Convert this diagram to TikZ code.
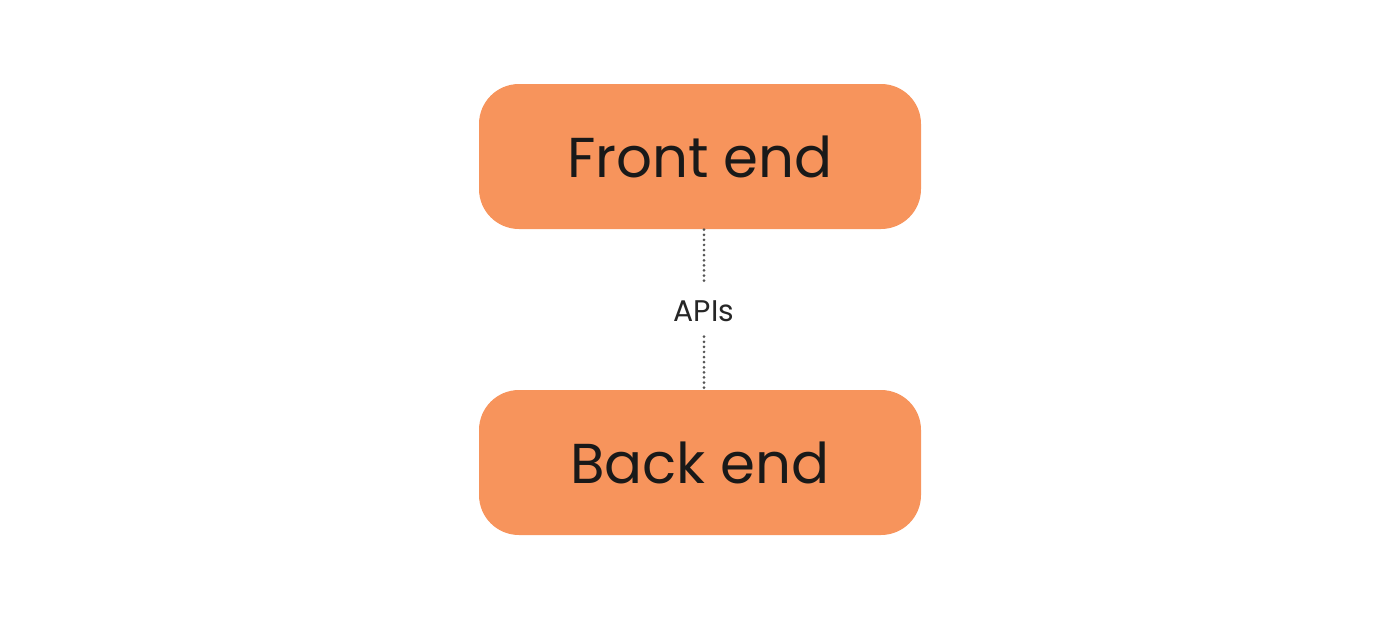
\documentclass[tikz,border=0pt]{standalone}
\usepackage{fontspec}
\setmainfont{Poppins}
\usetikzlibrary{positioning}
\definecolor{boxorange}{HTML}{F7945C}
\definecolor{dotgrey}{HTML}{555555}
\begin{document}
\begin{tikzpicture}
[
    layer/.style={fill=boxorange, rounded corners=0.4cm, minimum width=4.42cm,
        minimum height=1.45cm, font=\fontsize{16}{18}\selectfont, text=black!90},
    link/.style={dotgrey, line width=0.85pt, line cap=round, dash pattern=on 0pt off 1.45pt},
]
\useasboundingbox (0,0) rectangle (14,6.2);
\node [layer] (front) at (7.0,4.635) {Front end};
\node [layer] (back) at (7.0,1.575) {Back end};
\node [minimum height=0.5cm, inner sep=0pt, font=\fontsize{8.5}{10}\selectfont, text=black!85]
    (apis) at (7.04,3.09) {APIs};
\draw [link] (apis.north |- front.south) -- (apis.north);
\draw [link] (apis.south) -- (apis.south |- back.north);
\end{tikzpicture}
\end{document}
